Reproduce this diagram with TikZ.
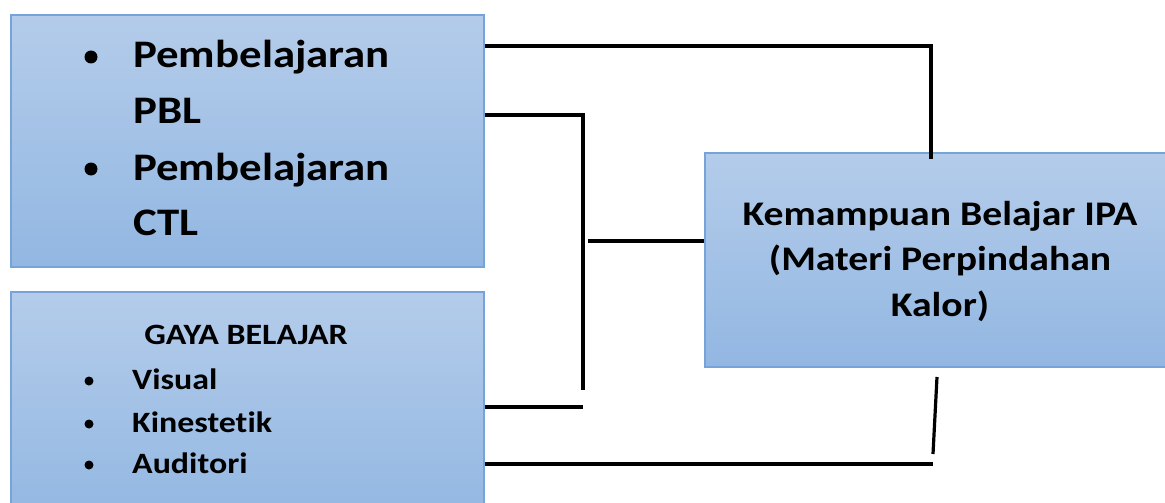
\documentclass[tikz,border=0pt]{standalone}
\usepackage{fontspec}
\setmainfont{Carlito}[FakeStretch=1.15, Ligatures={NoCommon,NoRare}]
\begin{document}
\begin{tikzpicture}[x=1pt,y=-1pt,
  box/.style={draw={rgb,255:red,118;green,163;blue,218}, line width=1.6pt,
    top color={rgb,255:red,180;green,204;blue,234},
    bottom color={rgb,255:red,146;green,183;blue,226},
    rectangle, inner sep=0pt, anchor=north west},
  big/.style={font=\bfseries\fontsize{39}{44}\selectfont, inner sep=0pt, anchor=base west},
  small/.style={font=\bfseries\fontsize{29.5}{34}\selectfont, inner sep=0pt, anchor=base west},
  mid/.style={font=\bfseries\fontsize{34.5}{40}\selectfont, inner sep=0pt, anchor=base},
  dot/.style={circle, fill=black, inner sep=0pt},
  wire/.style={line width=3.2pt, black}]
\useasboundingbox (0,0) rectangle (1165,503);
\clip (0,0) rectangle (1165,503);
\fill[white] (0,0) rectangle (1165,503);

% the three boxes
\node[box, minimum width=473pt, minimum height=252pt] (metode) at (10,14) {};
\node[box, minimum width=473pt, minimum height=230pt] (gaya) at (10,291) {};
\node[box, minimum width=480pt, minimum height=214pt] (ipa) at (704,152) {};

% learning models
\node[dot, minimum size=13pt] (b1) at (91,57) {};
\node[big] (t1) at (133,68) {Pembelajaran};
\node[big] (t2) at (133,123) {PBL};
\node[dot, minimum size=13pt] (b2) at (91,169) {};
\node[big] (t3) at (133,180) {Pembelajaran};
\node[big] (t4) at (133,235) {CTL};

% learning styles
\node[small, anchor=base] (g0) at (246,344) {GAYA BELAJAR};
\node[dot, minimum size=9pt] (gb1) at (89,381) {};
\node[small] (g1) at (132,389) {Visual};
\node[dot, minimum size=9pt] (gb2) at (89,424) {};
\node[small] (g2) at (132,432) {Kinestetik};
\node[dot, minimum size=9pt] (gb3) at (89,465) {};
\node[small] (g3) at (132,473) {Auditori};

% outcome
\node[mid] (k1) at (940,225) {Kemampuan Belajar IPA};
\node[mid] (k2) at (940,270) {(Materi Perpindahan};
\node[mid] (k3) at (940,316) {Kalor)};

% connectors
\coordinate (c1) at (931,46);
\coordinate (c1e) at (931,159);
\coordinate (c2) at (583,115);
\coordinate (c2e) at (583,390);
\coordinate (c3) at (588,241);
\coordinate (c4) at (583,407);
\coordinate (c5) at (933,464);
\coordinate (c5a) at (933,454);
\coordinate (c5b) at (937,377);

\draw[wire] (metode.east |- c1) -- (c1) -- (c1e);
\draw[wire] (metode.east |- c2) -- (c2) -- (c2e);
\draw[wire] (c3) -- (ipa.west |- c3);
\draw[wire] (gaya.east |- c4) -- (c4);
\draw[wire] (gaya.east |- c5) -- (c5);
\draw[wire] (c5a) -- (c5b);
\end{tikzpicture}
\end{document}
